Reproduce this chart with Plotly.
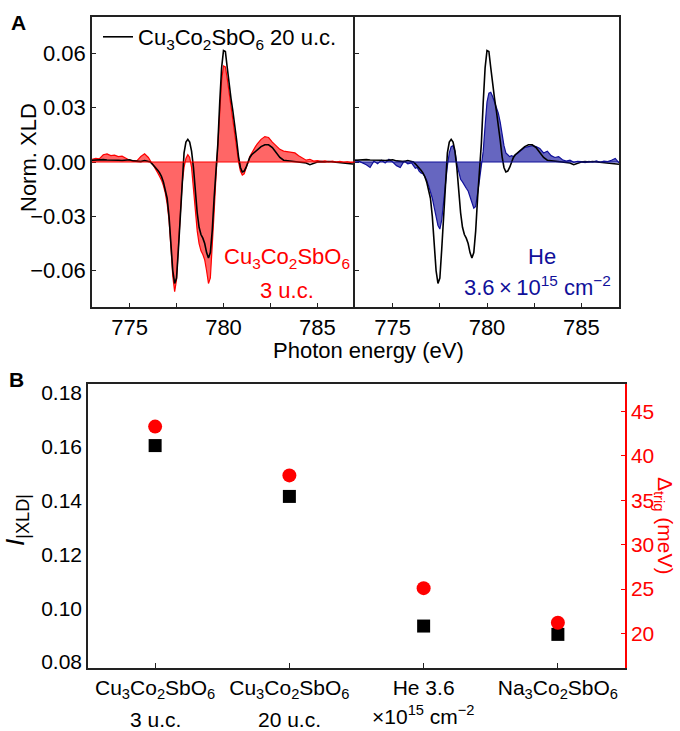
import plotly.graph_objects as go

# ---------------- Panel A data ----------------
energy = [773.0, 773.2, 773.4, 773.6, 773.8, 774.0, 774.2, 774.4, 774.6, 774.8,
          775.0, 775.2, 775.4, 775.6, 775.8,
          776.0, 776.1, 776.2, 776.3, 776.4, 776.5, 776.6, 776.7, 776.8, 776.9,
          777.0, 777.1, 777.2, 777.3, 777.4, 777.5, 777.6, 777.7, 777.8, 777.9,
          778.0, 778.1, 778.2, 778.3, 778.4, 778.5, 778.6, 778.7, 778.8, 778.9,
          779.0, 779.1, 779.2, 779.3, 779.4, 779.5, 779.6, 779.7, 779.8, 779.9,
          780.0, 780.1, 780.2, 780.3, 780.4, 780.5, 780.6, 780.7, 780.8, 780.9,
          781.0, 781.1, 781.2, 781.3, 781.4, 781.5, 781.6, 781.7, 781.8, 781.9,
          782.0, 782.2, 782.4, 782.6, 782.8, 783.0, 783.2, 783.4, 783.6, 783.8,
          784.0, 784.2, 784.4, 784.6, 784.8, 785.0, 785.2, 785.4, 785.6, 785.8,
          786.0, 786.2, 786.4, 786.6, 786.8, 787.0]

xld_20uc = [0.0010, 0.0012, 0.0010, 0.0013, 0.0011, 0.0012, 0.0009, 0.0010, 0.0008, 0.0011,
            0.0012, 0.0006, 0.0003, 0.0002, 0.0008,
            0.0005, 0.0000, -0.0010, -0.0020, -0.0030, -0.0045, -0.0060, -0.0080, -0.0110, -0.0150,
            -0.0200, -0.0300, -0.0450, -0.0600, -0.0670, -0.0640, -0.0480, -0.0280, -0.0080, 0.0050,
            0.0110, 0.0125, 0.0110, 0.0060, -0.0030, -0.0160, -0.0280, -0.0360, -0.0400, -0.0420,
            -0.0450, -0.0500, -0.0530, -0.0500, -0.0380, -0.0200, -0.0050, 0.0100, 0.0330, 0.0520,
            0.0615, 0.0610, 0.0520, 0.0420, 0.0350, 0.0280, 0.0210, 0.0120, 0.0030, -0.0030,
            -0.0055, -0.0050, -0.0030, 0.0000, 0.0025, 0.0040, 0.0050, 0.0060, 0.0070, 0.0080,
            0.0085, 0.0095, 0.0095, 0.0080, 0.0050, 0.0025, 0.0010, 0.0008, 0.0006, 0.0004,
            0.0002, 0.0000, -0.0005, -0.0015, -0.0008, 0.0000, 0.0002, 0.0000, 0.0003, 0.0001,
            0.0002, -0.0002, -0.0004, -0.0005, -0.0010, -0.0012]

xld_3uc = [0.0015, 0.0020, 0.0018, 0.0040, 0.0045, 0.0035, 0.0038, 0.0030, 0.0032, 0.0020,
           0.0010, 0.0005, 0.0008, 0.0030, 0.0045,
           0.0025, 0.0005, -0.0010, -0.0025, -0.0040, -0.0060, -0.0080, -0.0100, -0.0130, -0.0170,
           -0.0230, -0.0320, -0.0470, -0.0630, -0.0715, -0.0650, -0.0470, -0.0280, -0.0120, -0.0030,
           0.0020, 0.0040, 0.0025, -0.0030, -0.0150, -0.0280, -0.0380, -0.0450, -0.0490, -0.0510,
           -0.0540, -0.0600, -0.0670, -0.0640, -0.0480, -0.0280, -0.0080, 0.0080, 0.0280, 0.0450,
           0.0530, 0.0525, 0.0460, 0.0380, 0.0300, 0.0230, 0.0150, 0.0070, 0.0000, -0.0050,
           -0.0072, -0.0065, -0.0040, -0.0005, 0.0030, 0.0050, 0.0070, 0.0085, 0.0100, 0.0115,
           0.0125, 0.0140, 0.0135, 0.0110, 0.0090, 0.0070, 0.0060, 0.0058, 0.0055, 0.0050,
           0.0035, 0.0020, 0.0010, 0.0015, 0.0005, 0.0008, 0.0004, 0.0006, 0.0002, 0.0005,
           0.0000, 0.0003, -0.0002, 0.0001, -0.0004, -0.0003]

xld_he = [0.0010, 0.0005, -0.0005, -0.0015, -0.0030, 0.0005, -0.0010, 0.0010, -0.0005, 0.0015,
          0.0000, -0.0020, -0.0030, 0.0005, -0.0010,
          -0.0005, -0.0020, -0.0035, -0.0030, -0.0050, -0.0060, -0.0065, -0.0080, -0.0100, -0.0130,
          -0.0160, -0.0200, -0.0250, -0.0310, -0.0350, -0.0370, -0.0320, -0.0220, -0.0110, -0.0020,
          0.0050, 0.0085, 0.0090, 0.0060, -0.0010, -0.0060, -0.0095, -0.0110, -0.0130, -0.0145,
          -0.0160, -0.0190, -0.0220, -0.0255, -0.0245, -0.0180, -0.0100, -0.0020, 0.0060, 0.0200,
          0.0330, 0.0380, 0.0385, 0.0360, 0.0330, 0.0300, 0.0270, 0.0220, 0.0150, 0.0090,
          0.0050, 0.0040, 0.0030, 0.0035, 0.0030, 0.0040, 0.0045, 0.0055, 0.0065, 0.0075,
          0.0080, 0.0085, 0.0090, 0.0085, 0.0075, 0.0050, 0.0060, 0.0035, 0.0025, 0.0030,
          0.0012, 0.0005, 0.0010, -0.0002, 0.0004, 0.0002, -0.0004, 0.0003, 0.0000, 0.0006,
          -0.0002, 0.0005, 0.0002, 0.0010, 0.0020, -0.0005]

xld_tickvals = [-0.06, -0.03, 0.0, 0.03, 0.06]
xld_ticktext = ["\u22120.06", "\u22120.03", "0.00", "0.03", "0.06"]
energy_tickvals = [775, 777.5, 780, 782.5, 785]
energy_ticktext = ["775", "", "780", "", "785"]

# ---------------- Panel B data ----------------
samples = ["CCSO 3 u.c.", "CCSO 20 u.c.", "He 3.6e15", "NCSO"]
sample_line1 = ["Cu<sub>3</sub>Co<sub>2</sub>SbO<sub>6</sub>",
                "Cu<sub>3</sub>Co<sub>2</sub>SbO<sub>6</sub>",
                "He 3.6",
                "Na<sub>3</sub>Co<sub>2</sub>SbO<sub>6</sub>"]
sample_line2 = ["3 u.c.", "20 u.c.", "\u00d710<sup>15</sup> cm<sup>\u22122</sup>", ""]
i_xld = [0.1605, 0.1416, 0.0934, 0.0903]
delta_trig = [43.3, 37.8, 25.1, 21.2]

i_tickvals = [0.08, 0.10, 0.12, 0.14, 0.16, 0.18]
i_ticktext = ["0.08", "0.10", "0.12", "0.14", "0.16", "0.18"]
d_tickvals = [20, 25, 30, 35, 40, 45]

W, H = 680, 731
def px(x):
    return x / W
def py(y):
    return 1 - y / H

FONT = "Liberation Sans, Arial, Helvetica, sans-serif"
RED = "#ff0000"
BLUE = "#10109a"
AX = "#222222"

fig = go.Figure()

# Panel A left
fig.add_trace(go.Scatter(x=energy, y=xld_3uc, mode="lines", fill="tozeroy",
                         line=dict(color=RED, width=1.2),
                         fillcolor="rgba(255,0,0,0.6)", showlegend=False,
                         xaxis="x", yaxis="y"))
fig.add_trace(go.Scatter(x=energy, y=xld_20uc, mode="lines",
                         line=dict(color="black", width=1.6),
                         name="Cu<sub>3</sub>Co<sub>2</sub>SbO<sub>6</sub> 20 u.c.",
                         showlegend=True, xaxis="x", yaxis="y"))
# Panel A right
fig.add_trace(go.Scatter(x=energy, y=xld_he, mode="lines", fill="tozeroy",
                         line=dict(color=BLUE, width=1.2),
                         fillcolor="rgba(0,0,150,0.6)", showlegend=False,
                         xaxis="x2", yaxis="y2"))
fig.add_trace(go.Scatter(x=energy, y=xld_20uc, mode="lines",
                         line=dict(color="black", width=1.6),
                         showlegend=False, xaxis="x2", yaxis="y2"))

# Panel B
fig.add_trace(go.Scatter(x=samples, y=i_xld, mode="markers",
                         marker=dict(symbol="square", size=13, color="black"),
                         showlegend=False, xaxis="x3", yaxis="y3"))
fig.add_trace(go.Scatter(x=samples, y=delta_trig, mode="markers",
                         marker=dict(symbol="circle", size=14, color=RED),
                         showlegend=False, xaxis="x3", yaxis="y4"))

def box(mirror=True):
    return dict(showline=True, linecolor=AX, linewidth=1.5, mirror=mirror,
                showgrid=False, zeroline=False, ticks="inside", ticklen=4,
                tickcolor=AX, tickwidth=1)

yA = [py(307), py(17)]
fig.update_layout(
    width=W, height=H,
    margin=dict(l=0, r=0, t=0, b=0, autoexpand=False),
    paper_bgcolor="white", plot_bgcolor="white",
    font=dict(family=FONT, size=22, color="black"),
    xaxis=dict(domain=[px(92), px(355)], anchor="y", range=[773, 787],
               tickvals=energy_tickvals, ticktext=energy_ticktext,
               tickfont=dict(size=22), **box()),
    yaxis=dict(domain=yA, anchor="x", range=[-0.08, 0.08],
               tickvals=xld_tickvals, ticktext=xld_ticktext,
               tickfont=dict(size=22), **box(False)),
    xaxis2=dict(domain=[px(355), px(619)], anchor="y2", range=[773, 787],
                tickvals=energy_tickvals, ticktext=energy_ticktext,
                tickfont=dict(size=22), **box()),
    yaxis2=dict(domain=yA, anchor="x2", range=[-0.08, 0.08],
                tickvals=xld_tickvals, showticklabels=False, **box()),
    xaxis3=dict(domain=[px(88), px(625)], anchor="y3", type="category",
                categoryorder="array", categoryarray=samples,
                range=[-0.5, 3.5], tickvals=samples, ticktext=sample_line1,
                tickfont=dict(size=21), showline=True, linecolor=AX,
                linewidth=1.5, mirror=True, showgrid=False, zeroline=False,
                ticks="inside", ticklen=5, tickcolor=AX),
    yaxis3=dict(domain=[py(668), py(384)], anchor="x3",
                range=[0.0778, 0.1834], tickvals=i_tickvals, ticktext=i_ticktext,
                tickfont=dict(size=21), showline=True, linecolor=AX, linewidth=1.5,
                showgrid=False, zeroline=False, ticks=""),
    yaxis4=dict(overlaying="y3", side="right", anchor="x3",
                range=[16.1, 48.1], tickvals=d_tickvals,
                tickfont=dict(size=21, color=RED), showline=True,
                linecolor=RED, linewidth=1.5, showgrid=False, zeroline=False,
                ticks="inside", ticklen=4, tickcolor=RED),
    yaxis5=dict(overlaying="y3", side="left", anchor="x3",
                range=[16.1, 48.1], tickvals=d_tickvals,
                showticklabels=False, showline=False, showgrid=False,
                zeroline=False, ticks="inside", ticklen=3, tickcolor=AX),
    legend=dict(x=px(98), y=py(16), xanchor="left", yanchor="top",
                bgcolor="rgba(0,0,0,0)", font=dict(size=22),
                itemwidth=30),
    showlegend=True,
)

# zero baselines of the filled spectra
fig.add_shape(type="line", xref="x domain", yref="y", x0=0, x1=1, y0=0, y1=0,
              line=dict(color=RED, width=1.2), layer="above")
fig.add_shape(type="line", xref="x2 domain", yref="y2", x0=0, x1=1, y0=0, y1=0,
              line=dict(color=BLUE, width=1.2), layer="above")

ann = []
def add(text, x, y, size=22, color="black", **kw):
    ann.append(dict(text=text, x=x, y=y, xref="paper", yref="paper",
                    xanchor="center", yanchor="middle",
                    showarrow=False, font=dict(size=size, color=color, family=FONT), **kw))

add("<b>A</b>", px(18), py(22), size=21)
add("<b>B</b>", px(16), py(379), size=21)
add("Norm. XLD", px(28), py(158), textangle=-90)
add("Photon energy (eV)", px(368), py(350))
add("Cu<sub>3</sub>Co<sub>2</sub>SbO<sub>6</sub>", px(287), py(258), color=RED)
add("3 u.c.", px(287), py(290), color=RED)
add("He", px(542), py(256), color=BLUE)
add("3.6\u2009\u00d7\u200910<sup>15</sup> cm<sup>\u22122</sup>", px(537), py(286), color=BLUE)
add("<i>I</i><sub>|XLD|</sub>", px(16), py(520), size=26, textangle=-90)
add("\u0394<sub>trig</sub> (meV)", px(664), py(525), size=21, color=RED, textangle=90)
line2_y = [719, 719, 715, 719]
for s, t, yy in zip(samples, sample_line2, line2_y):
    if t:
        ann.append(dict(text=t, x=s, y=py(yy), xref="x3", yref="paper",
                        xanchor="center", yanchor="middle",
                        showarrow=False, font=dict(size=21, family=FONT)))
fig.update_layout(annotations=ann)

fig.write_html("out.html", config={"displayModeBar": False},
               post_script="document.body.style.margin='0';document.body.style.overflow='hidden';")
